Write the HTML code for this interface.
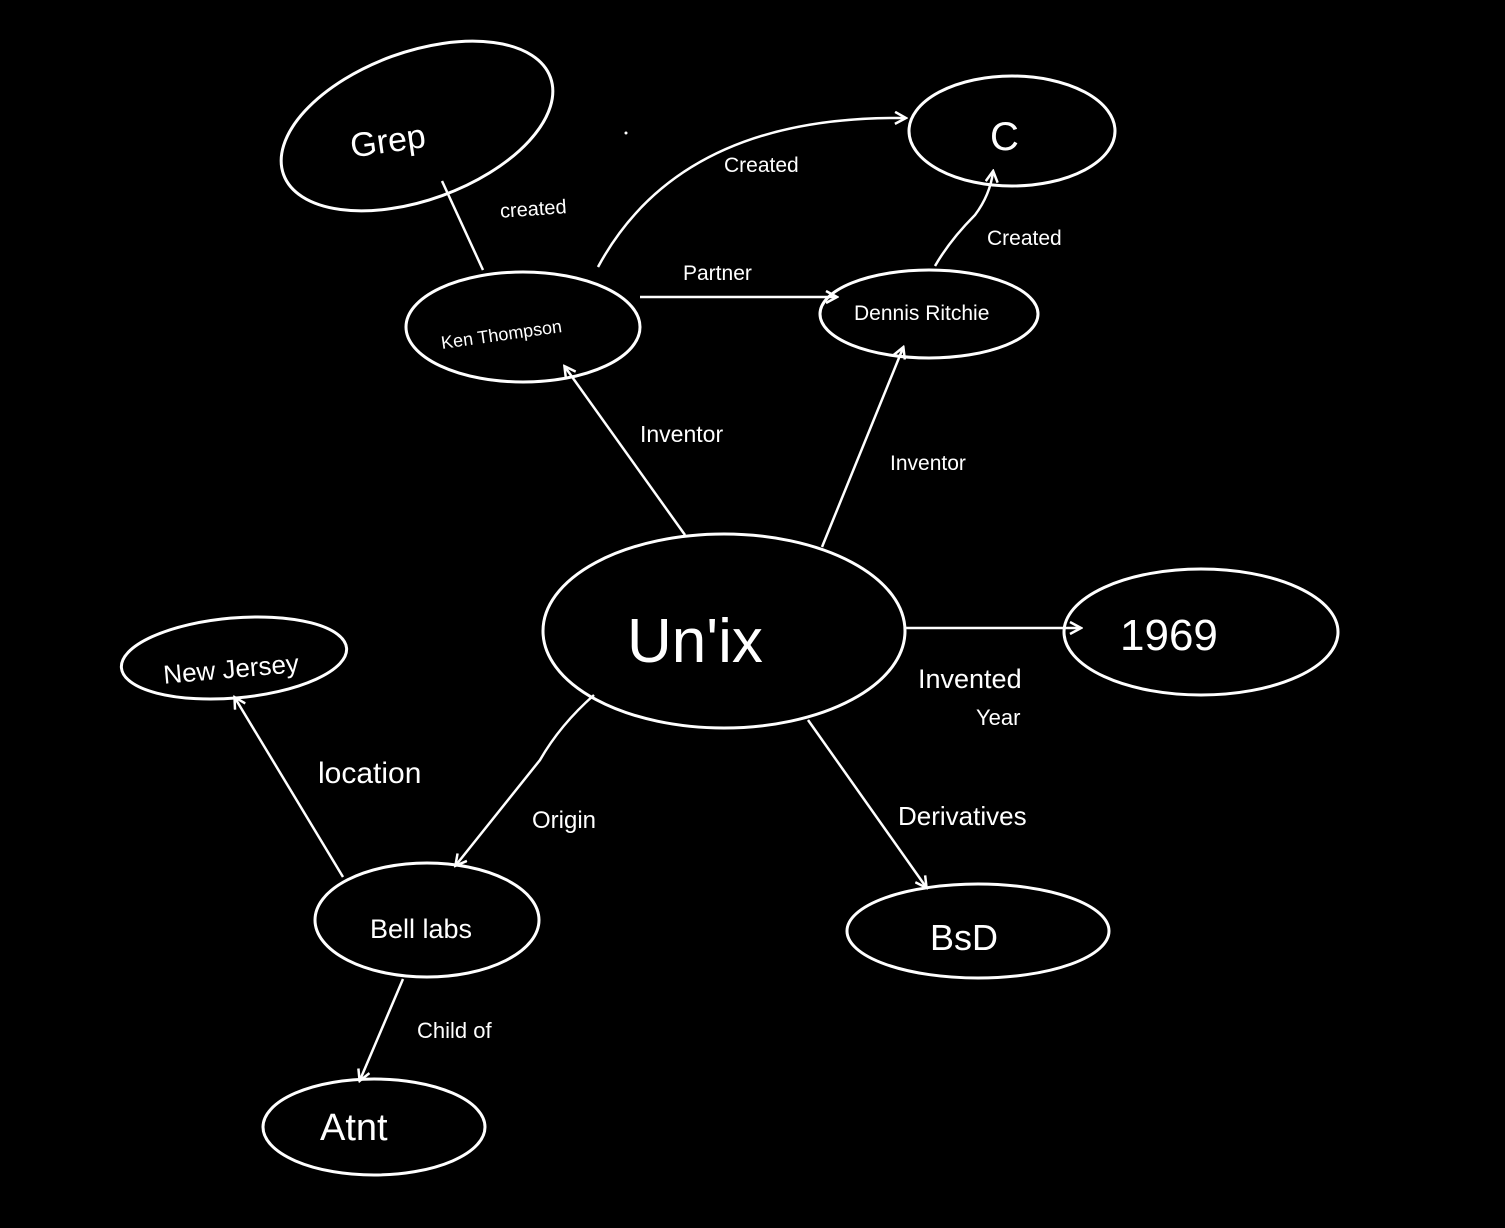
<!DOCTYPE html>
<html><head><meta charset="utf-8"><style>
html,body{margin:0;padding:0;background:#000;}
svg{display:block}
text{fill:#fff;font-family:"Liberation Sans",sans-serif;}
</style></head><body>
<svg width="1505" height="1228" viewBox="0 0 1505 1228" xmlns="http://www.w3.org/2000/svg">
<defs>
<marker id="a" markerWidth="14" markerHeight="14" refX="11" refY="7" orient="auto" markerUnits="userSpaceOnUse">
<path d="M1,1 L12,7 L1,13" fill="none" stroke="#fff" stroke-width="2.5"/>
</marker>
</defs>
<g fill="none" stroke="#fff" stroke-width="3">
<ellipse cx="417" cy="126" rx="142" ry="74" transform="rotate(-20 417 126)"/>
<ellipse cx="1012" cy="131" rx="103" ry="55"/>
<ellipse cx="523" cy="327" rx="117" ry="55"/>
<ellipse cx="929" cy="314" rx="109" ry="44"/>
<ellipse cx="724" cy="631" rx="181" ry="97"/>
<ellipse cx="1201" cy="632" rx="137" ry="63"/>
<ellipse cx="234" cy="658" rx="113" ry="40" transform="rotate(-5 234 658)"/>
<ellipse cx="427" cy="920" rx="112" ry="57"/>
<ellipse cx="978" cy="931" rx="131" ry="47"/>
<ellipse cx="374" cy="1127" rx="111" ry="48"/>
<g stroke-width="2.5">
<path d="M442,181 L483,270"/>
<path d="M598,267 Q680,115 905,118" marker-end="url(#a)"/>
<path d="M640,297 L836,297" marker-end="url(#a)"/>
<path d="M935,266 Q950,240 975,215 Q990,195 993,172" marker-end="url(#a)"/>
<path d="M685,535 L565,367" marker-end="url(#a)"/>
<path d="M822,547 L903,348" marker-end="url(#a)"/>
<path d="M906,628 L1080,628" marker-end="url(#a)"/>
<path d="M594,695 Q560,725 540,760 L456,865" marker-end="url(#a)"/>
<path d="M343,877 L235,698" marker-end="url(#a)"/>
<path d="M808,720 L926,887" marker-end="url(#a)"/>
<path d="M403,979 L360,1080" marker-end="url(#a)"/>
</g>
</g>
<circle cx="626" cy="133" r="1.5" fill="#fff"/>
<text x="350" y="152" font-size="34" transform="rotate(-8 390 140)">Grep</text>
<text x="990" y="150" font-size="40">C</text>
<text x="440" y="340" font-size="18" transform="rotate(-8 505 330)">Ken Thompson</text>
<text x="854" y="320" font-size="21">Dennis Ritchie</text>
<text x="627" y="662" font-size="62">Un'ix</text>
<text x="1120" y="650" font-size="44">1969</text>
<text x="163" y="678" font-size="26" transform="rotate(-5 230 668)">New Jersey</text>
<text x="370" y="938" font-size="27">Bell labs</text>
<text x="930" y="950" font-size="36">BsD</text>
<text x="320" y="1140" font-size="38">Atnt</text>
<text x="500" y="215" font-size="20" transform="rotate(-4 540 210)">created</text>
<text x="724" y="172" font-size="21">Created</text>
<text x="683" y="280" font-size="21">Partner</text>
<text x="987" y="245" font-size="21">Created</text>
<text x="640" y="442" font-size="23">Inventor</text>
<text x="890" y="470" font-size="21">Inventor</text>
<text x="918" y="688" font-size="27">Invented</text>
<text x="976" y="725" font-size="22">Year</text>
<text x="318" y="783" font-size="30">location</text>
<text x="532" y="828" font-size="24">Origin</text>
<text x="898" y="825" font-size="26">Derivatives</text>
<text x="417" y="1038" font-size="22">Child of</text>
</svg>
</body></html>
